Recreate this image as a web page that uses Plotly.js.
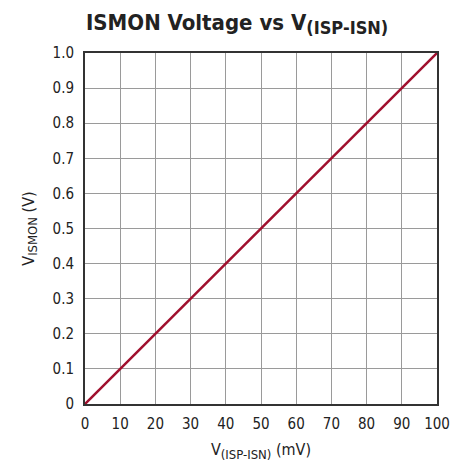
<!DOCTYPE html>
<html><head><meta charset="utf-8">
<script src="https://cdn.plot.ly/plotly-3.0.1.min.js"></script>
<style>body{margin:0;background:#fff}#c{width:466px;height:464px}</style>
</head><body><div id="c"></div>
<script>
const xValues = [0, 100];
const yValues = [0, 1.0];
const xTicks = [0,10,20,30,40,50,60,70,80,90,100];
const yTicks = [0,0.1,0.2,0.3,0.4,0.5,0.6,0.7,0.8,0.9,1.0];
const yTickText = ['0','0.1','0.2','0.3','0.4','0.5','0.6','0.7','0.8','0.9','1.0'];
const FONT = '"DejaVu Sans Condensed", "Liberation Sans Narrow", Arial, sans-serif';

Plotly.newPlot('c', [{
  x: xValues, y: yValues, mode: 'lines', type: 'scatter',
  line: {color: '#A0102E', width: 2.5}, hoverinfo: 'skip'
}], {
  width: 466, height: 464,
  margin: {l: 85, r: 29, t: 53, b: 60},
  paper_bgcolor: '#fff', plot_bgcolor: '#fff',
  showlegend: false,
  font: {family: FONT, color: '#222', size: 15},
  title: {
    text: '<b>ISMON Voltage vs V<sub><span style="font-size:18px">(ISP-ISN)</span></sub></b>',
    font: {family: FONT, size: 22, color: '#222'},
    xref: 'container', x: 86/466, xanchor: 'left',
    yref: 'container', y: 1 - 22/464, yanchor: 'middle'
  },
  xaxis: {
    range: [0, 100], tickmode: 'array', tickvals: xTicks,
    showgrid: true, gridcolor: '#9a9a9a', gridwidth: 1,
    zeroline: false, showline: true, linecolor: '#333', linewidth: 2, mirror: true,
    ticks: '', ticklen: 0, ticklabelstandoff: 5,
    tickfont: {size: 15, family: FONT, color: '#222'},
    title: {text: 'V<sub><span style="font-size:13px">(ISP-ISN)</span></sub> (mV)', font: {size: 16, family: FONT, color: '#222'}, standoff: 12}
  },
  yaxis: {
    range: [0, 1.0], tickmode: 'array', tickvals: yTicks, ticktext: yTickText,
    showgrid: true, gridcolor: '#9a9a9a', gridwidth: 1,
    zeroline: false, showline: true, linecolor: '#333', linewidth: 2, mirror: true,
    ticks: '', ticklen: 0, ticklabelstandoff: 6,
    tickfont: {size: 15, family: FONT, color: '#222'},
    title: {text: 'V<sub><span style="font-size:13px">ISMON</span></sub> (V)', font: {size: 16, family: FONT, color: '#222'}, standoff: 14}
  }
}, {displayModeBar: false, staticPlot: true});
</script></body></html>
